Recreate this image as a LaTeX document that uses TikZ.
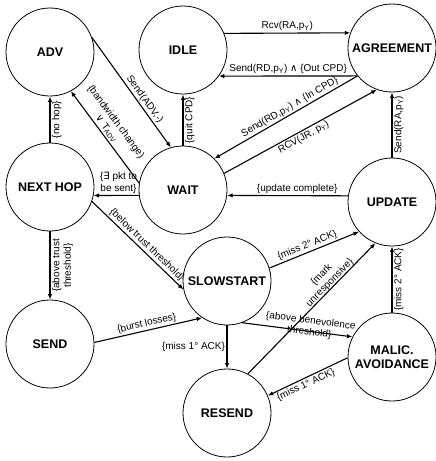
\documentclass[tikz,border=0pt]{standalone}
\usepackage{fontspec}
\setmainfont{Liberation Sans}
\newfontfamily\symf{DejaVu Sans}
\usetikzlibrary{arrows.meta}
\newcommand\myand{{\symf ∧}}
\newcommand\myor{{\symf ∨}}
\newcommand\myexists{{\symf ∃}}
\newcommand\pY{p\textsubscript{Y}}
\begin{document}
\begin{tikzpicture}[x=1pt,y=-1pt,
 st/.style={circle,draw,line width=0.8pt,minimum size=88pt,inner sep=0pt,font=\bfseries\fontsize{12.5}{14}\selectfont,align=center},
 tr/.style={line width=1.1pt,-{Latex[length=5.5pt,width=4.5pt]}},
 lb/.style={font=\fontsize{10}{11.5}\selectfont,inner sep=1.5pt,align=center},
 vlb/.style={lb,rotate=90,anchor=north}]
\useasboundingbox (0,0) rectangle (436,461);
\node[st] (adv) at (50,52) {ADV};
\node[st] (idle) at (183,50) {IDLE};
\node[st] (agree) at (392,48) {AGREEMENT};
\node[st] (nh) at (50,187) {NEXT HOP};
\node[st] (wait) at (183,190) {WAIT};
\node[st] (upd) at (392,202) {UPDATE};
\node[st] (slow) at (227,281) {SLOWSTART};
\node[st] (send) at (50,344) {SEND};
\node[st] (resend) at (227,413) {RESEND};
\node[st] (malic) at (392,357) {MALIC.\\AVOIDANCE};
% top row
\draw[tr] (idle.22.7) -- node[lb,above]{Rcv(RA,\pY)} (agree.160.1);
\draw[tr] (agree.219.5) -- node[lb,above]{Send(RD,\pY) \myand{} \{Out CPD\}} (idle.-36.2);
\draw[tr] (agree.219.5) -- node[lb,sloped,above,pos=0.45]{Send(RD,\pY) \myand{} \{In CPD\}} (wait.45);
\draw[tr] (wait.22) -- node[lb,sloped,below]{RCV(JR, \pY)} (agree.250);
\draw[tr] (upd.90) -- node[vlb]{Send(RA,\pY)} (agree.270);
\draw[tr] (upd.172.2) -- node[lb,above,pos=0.42]{\{update complete\}} (wait.-7.8);
\draw[tr] (wait.90) -- node[vlb]{\{quit CPD\}} (idle.270);
% left column
\draw[tr] (adv.19) -- node[lb,sloped,above,pos=0.6]{Send(ADV,-)} (wait.106);
\draw[tr] (wait.171) -- node[lb,sloped,above,pos=0.55]{\{bandwidth change)\\\myor{} T\textsubscript{ADV}} (adv.298);
\draw[tr] (nh.90) -- node[vlb]{\{no hop\}} (adv.270);
\draw[tr] (wait.187.8) -- node[lb,above,pos=0.45]{\{\myexists{} pkt to\\be sent\}} (nh.-11.8);
\draw[tr] (nh.-19) -- node[lb,sloped,above,pos=0.55]{\{below trust threshold\}} (slow.191);
\draw[tr] (nh.270) -- node[vlb]{\{above trust\\threshold\}} (send.90);
% bottom
\draw[tr] (send.2) -- node[lb,sloped,above]{\{burst losses\}} (slow.236);
\draw[tr] (slow.17.6) -- node[lb,sloped,above,pos=0.45]{\{miss 2° ACK\}} (upd.222);
\draw[tr] (resend.62.3) -- node[lb,sloped,above=-2pt,pos=0.67]{\{mark\\unresponsive\}} (upd.248);
\draw[tr] (malic.90) -- node[vlb]{\{miss 2° ACK\}} (upd.270);
\draw[tr] (slow.290) -- node[lb,sloped,above=-8pt,pos=0.61]{\{above benevolence\\threshold\}} (malic.153);
\draw[tr] (slow.270) -- node[lb,left,pos=0.5]{\{miss 1° ACK\}} (resend.90);
\draw[tr] (malic.181) -- node[lb,sloped,below,pos=0.56]{\{miss 1° ACK\}} (resend.23);
\end{tikzpicture}
\end{document}
